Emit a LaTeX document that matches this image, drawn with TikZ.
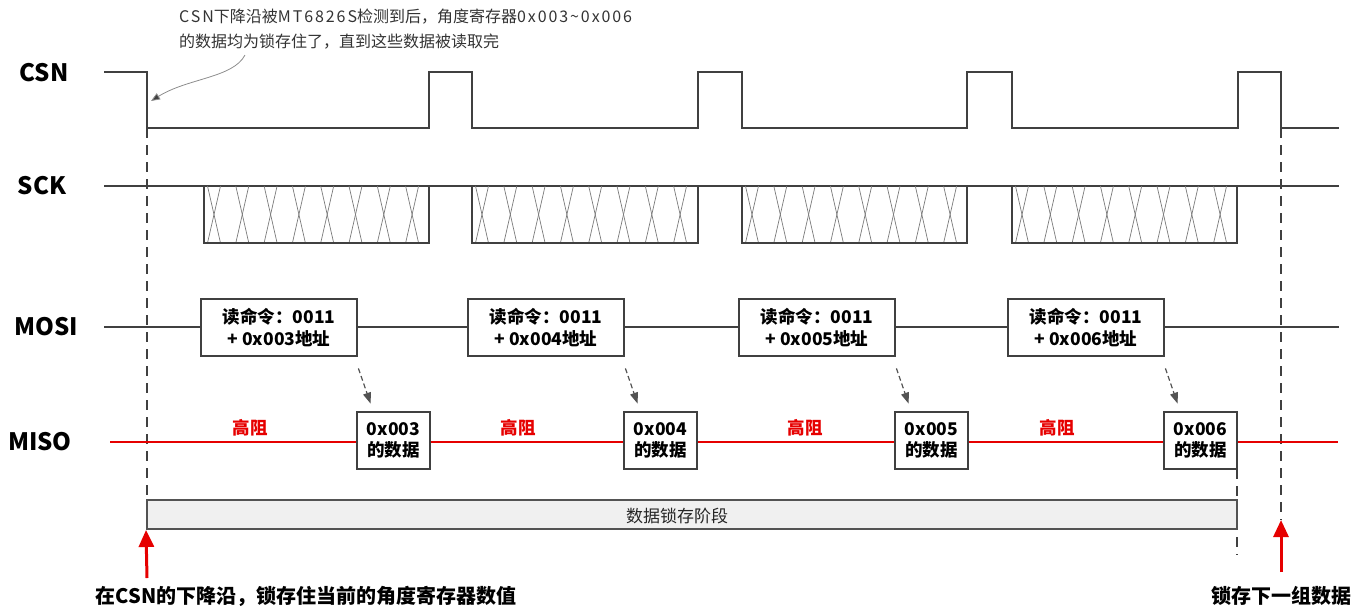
\documentclass[tikz,border=0pt]{standalone}
\usepackage{fontspec}
\setmainfont{Noto Sans CJK SC}
\usetikzlibrary{arrows.meta,calc}
\definecolor{sig}{HTML}{404040}
\definecolor{hizc}{HTML}{E60000}
\definecolor{hatchc}{HTML}{7A7A7A}
\definecolor{barfill}{HTML}{F0F0F0}
\newcommand{\spaced}[1]{{\addfontfeature{LetterSpace=12}#1}}
\begin{document}
\begin{tikzpicture}[x=1pt,y=-1pt,
  sigline/.style={draw=sig,line width=2.8pt,line join=miter},
  wire/.style={draw=sig,line width=2.5pt},
  hatchline/.style={draw=hatchc,line width=0.7pt},
  hizline/.style={draw=hizc,line width=2.5pt},
  siglab/.style={font=\fontsize{24}{28}\selectfont\bfseries,text=black},
  mosibox/.style={draw=sig,line width=2.8pt,fill=white,minimum width=156pt,minimum height=57pt,inner sep=0pt,align=center,font=\fontsize{17.5}{22}\selectfont\bfseries},
  misobox/.style={draw=sig,line width=2.8pt,fill=white,minimum width=73pt,minimum height=57pt,inner sep=0pt,align=center,font=\fontsize{17.5}{21}\selectfont\bfseries},
  hizlab/.style={font=\fontsize{17.5}{20}\selectfont\bfseries,text=hizc},
  vdash/.style={draw=sig,line width=1.8pt,dash pattern=on 10pt off 7pt},
  dasharrow/.style={draw=sig!90,line width=1.2pt,dash pattern=on 5pt off 3pt,-{Triangle[length=11pt,width=8pt]}},
  redarrow/.style={draw=hizc,line width=3pt,-{Triangle[length=17pt,width=15pt]}},
  botlab/.style={font=\fontsize{20}{22}\selectfont\bfseries,text=black},
  latchbar/.style={draw=sig!90,line width=2pt,fill=barfill,minimum width=1090pt,minimum height=29pt,inner sep=0pt},
  note/.style={font=\fontsize{16}{25}\selectfont,text=black!80,align=left,anchor=west,inner sep=0pt}
]
\useasboundingbox (0,0) rectangle (1365,611);

% signal labels
\node[siglab] (lcsn) at (44,73) {CSN};
\node[siglab] (lsck) at (42,186) {SCK};
\node[siglab] (lmosi) at (46,327) {MOSI};
\node[siglab] (lmiso) at (40,442) {MISO};

% dashed vertical markers
\coordinate (d1t) at (147,128);
\coordinate (d1b) at (147,500);
\coordinate (d2t) at (1237,469);
\coordinate (d2b) at (1237,555);
\coordinate (d3t) at (1281,128);
\coordinate (d3b) at (1281,520);
\draw[vdash] (d1t) -- (d1b);
\draw[vdash] (d2t) -- (d2b);
\draw[vdash] (d3t) -- (d3b);

% CSN
\draw[sigline] (104,72) -- (147,72) -- (147,128) -- (429,128) -- (429,72) -- (472,72) -- (472,128)
  -- (698,128) -- (698,72) -- (742,72) -- (742,128) -- (967,128) -- (967,72) -- (1012,72) -- (1012,128)
  -- (1238,128) -- (1238,72) -- (1281,72) -- (1281,128) -- (1339,128);

% SCK
\draw[wire] (104,186) -- (1339,186);
\foreach \a/\b in {204/429, 472/698, 742/967, 1012/1237}{
  \foreach \k in {0,...,7}{
    \pgfmathsetmacro{\cx}{\a+10+\k*28.3}
    \draw[hatchline] (\cx-6.5,186) -- (\cx+6.5,243);
    \draw[hatchline] (\cx+6.5,186) -- (\cx-6.5,243);
  }
  \draw[sigline] (\a,186) -- (\a,243) -- (\b,243) -- (\b,186);
}

% MOSI
\draw[wire] (104,327) -- (1339,327);
\node[mosibox] (m1) at (279,327.5) {读命令：0011\\+ 0x003地址};
\node[mosibox] (m2) at (546,327.5) {读命令：0011\\+ 0x004地址};
\node[mosibox] (m3) at (817,327.5) {读命令：0011\\+ 0x005地址};
\node[mosibox] (m4) at (1086,327.5) {读命令：0011\\+ 0x006地址};

% MISO
\draw[hizline] (110,442) -- (1338,442);
\node[misobox] (o1) at (393.5,440.5) {0x003\\的数据};
\node[misobox] (o2) at (660.5,440.5) {0x004\\的数据};
\node[misobox] (o3) at (931.5,440.5) {0x005\\的数据};
\node[misobox] (o4) at (1200.5,440.5) {0x006\\的数据};
\node[hizlab] (h1) at (250,428) {高阻};
\node[hizlab] (h2) at (518,428) {高阻};
\node[hizlab] (h3) at (805,428) {高阻};
\node[hizlab] (h4) at (1057,428) {高阻};

% dashed arrows MOSI -> MISO
\foreach \i in {1,2,3,4}{
  \draw[dasharrow] ($(m\i.south east)+(0,11)$) -- ($(o\i.north west)+(15,-7)$);
}

% latch bar
\node[latchbar] (bar) at (692,514.5) {};
\node[font=\fontsize{17}{20}\selectfont,text=black!85] (barlab) at (677,516) {数据锁存阶段};

% red arrows and bottom labels
\node[botlab] (b1) at (306,596) {在CSN的下降沿，锁存住当前的角度寄存器数值};
\node[botlab] (b2) at (1281,596) {锁存下一组数据};
\draw[redarrow] (147,578) -- (bar.south west);
\draw[redarrow] (1281,572) -- (d3b);

% annotation
\node[note] (ann) at (179,29.5) {\spaced{CSN}下降沿被\spaced{MT6826S}检测到后，角度寄存器\spaced{0x003\textasciitilde0x006}\\的数据均为锁存住了，直到这些数据被读取完};
\coordinate (annstart) at (245,55);
\coordinate (anntip) at (151,101);
\draw[draw=black!45,line width=0.8pt,-{Triangle[length=9pt,width=7pt,fill=sig]}] (annstart) .. controls (233,78) and (188,78) .. (anntip);
\end{tikzpicture}
\end{document}
